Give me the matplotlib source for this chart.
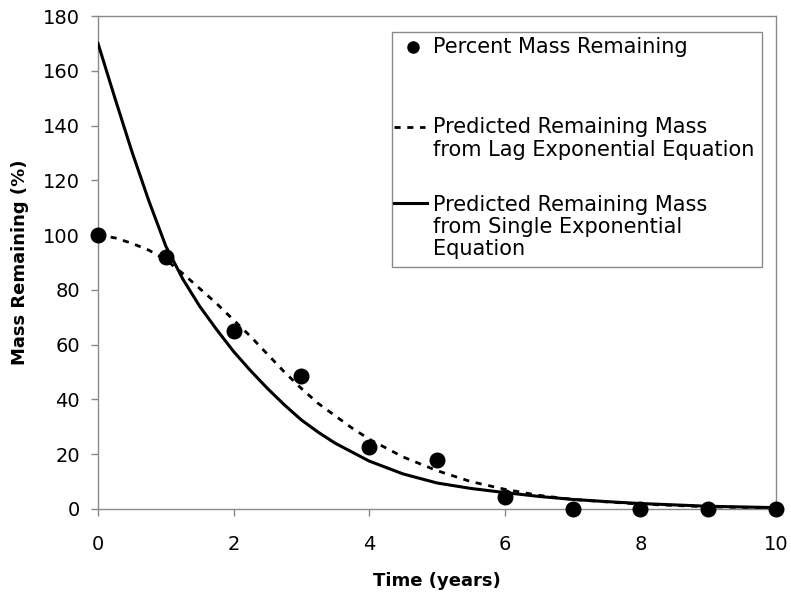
import matplotlib
matplotlib.use("Agg")
import matplotlib.pyplot as plt
from matplotlib.lines import Line2D
from matplotlib.patches import Rectangle

# Observed data
years = [0, 1, 2, 3, 4, 5, 6, 7, 8, 9, 10]
mass_pct = [100, 92, 65, 48.5, 22.7, 18, 4.3, 0, 0, 0, 0]

# Lag exponential prediction
lag_t = [0, 0.25, 0.5, 0.75, 1, 1.25, 1.5, 1.75, 2, 2.25, 2.5, 2.75, 3, 3.25, 3.5,
         3.75, 4, 4.5, 5, 5.5, 6, 6.5, 7, 7.5, 8, 9, 10]
lag_v = [100, 99, 97, 94.5, 91, 86, 80.5, 75, 69, 63, 56.5, 50, 44, 38.5, 34,
         29.5, 25.5, 19, 14, 10, 7.2, 5, 3.5, 2.6, 1.8, 0.8, 0.4]

# Single exponential prediction
single_t = [0, 0.25, 0.5, 0.75, 1, 1.25, 1.5, 1.75, 2, 2.25, 2.5, 2.75, 3, 3.25, 3.5,
            4, 4.5, 5, 5.5, 6, 6.5, 7, 7.5, 8, 9, 10]
single_v = [170, 150, 130.5, 112.5, 96, 84, 74, 65.5, 57.5, 50.5, 44, 38, 32.5, 28, 24,
            17.5, 12.8, 9.5, 7.5, 6, 4.6, 3.5, 2.7, 2, 1, 0.5]

xticks = [0, 2, 4, 6, 8, 10]
yticks = [0, 20, 40, 60, 80, 100, 120, 140, 160, 180]

legend_labels = ["Percent Mass Remaining",
                 "Predicted Remaining Mass\nfrom Lag Exponential Equation",
                 "Predicted Remaining Mass\nfrom Single Exponential\nEquation"]

plt.rcParams['font.family'] = ['DejaVu Sans']

W, H = 791, 600
fig = plt.figure(figsize=(W / 100, H / 100), dpi=100)
ax = fig.add_axes([98 / W, (H - 509) / H, (776 - 98) / W, (509 - 16) / H])

ax.plot(single_t, single_v, color='black', lw=2.2, solid_joinstyle='round', zorder=3)
ax.plot(lag_t, lag_v, color='black', lw=2.0, linestyle=(0, (2.2, 2.4)), zorder=3)
ax.plot(years, mass_pct, 'o', color='black', markersize=10.5, clip_on=False, zorder=4)

ax.set_xlim(0, 10)
ax.set_ylim(0, 180)
ax.set_xticks(xticks)
ax.set_yticks(yticks)
ax.tick_params(axis='both', direction='out', length=5, width=1, color='#888888',
               labelsize=14, labelcolor='black')
ax.tick_params(axis='y', pad=8)
ax.tick_params(axis='x', pad=14)
for s in ax.spines.values():
    s.set_color('#8a8a8a')
    s.set_linewidth(1.0)

ax.set_xlabel("Time (years)", fontsize=13, fontweight='bold', labelpad=13)
ax.set_ylabel("Mass Remaining (%)", fontsize=13, fontweight='bold', labelpad=10)

# Legend (drawn in axes coordinates)
def axx(px):
    return (px - 98) / 678.0

def axy(py):
    return (509 - py) / 493.0

frame = Rectangle((axx(392), axy(267)), axx(762) - axx(392), axy(32) - axy(267),
                  transform=ax.transAxes, facecolor='white', edgecolor='#8a8a8a',
                  lw=1.0, zorder=5)
ax.add_patch(frame)
ax.add_line(Line2D([axx(413)], [axy(47)], marker='o', markersize=8, color='black',
                   transform=ax.transAxes, zorder=6))
ax.add_line(Line2D([axx(394), axx(425)], [axy(127), axy(127)], color='black', lw=2.0,
                   linestyle=(0, (2.2, 2.4)), transform=ax.transAxes, zorder=6))
ax.add_line(Line2D([axx(394), axx(427)], [axy(203), axy(203)], color='black', lw=2.2,
                   transform=ax.transAxes, zorder=6))
text_centers = [47, 138.5, 226.7]
for lab, yc in zip(legend_labels, text_centers):
    ax.text(axx(433), axy(yc), lab, transform=ax.transAxes, fontsize=15,
            va='center', ha='left', linespacing=1.13, zorder=6)

fig.savefig("out.png", dpi=100)
